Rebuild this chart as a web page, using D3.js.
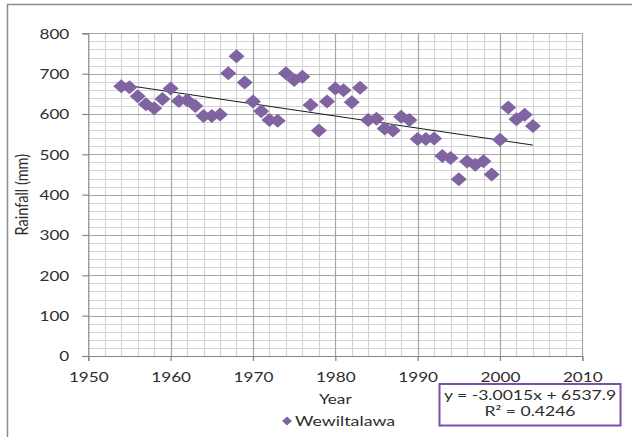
<!DOCTYPE html>
<html><head><meta charset="utf-8">
<script src="https://cdn.jsdelivr.net/npm/d3@7"></script>
<style>
html,body{margin:0;padding:0;background:#fff;}
svg{display:block;}
text{font-family:Lato,"Open Sans",sans-serif;fill:#2e2e2e;}
</style></head><body>
<svg id="c" width="632" height="437"></svg>
<script>
const years = [1954,1955,1956,1957,1958,1959,1960,1961,1962,1963,1964,1965,1966,1967,1968,1969,1970,1971,1972,1973,1974,1975,1976,1977,1978,1979,1980,1981,1982,1983,1984,1985,1986,1987,1988,1989,1990,1991,1992,1993,1994,1995,1996,1997,1998,1999,2000,2001,2002,2003,2004];
const rainfall = [669,666,644,624,614,637,663,632,634,620,595,595,599,701,743,678,631,607,585,583,701,684,692,622,559,631,663,659,629,665,585,588,564,559,593,585,538,538,539,496,491,438,482,474,483,450,536,616,587,598,570];
const xTicks = [1950,1960,1970,1980,1990,2000,2010];
const yTicks = [0,100,200,300,400,500,600,700,800];
const trendSlope = [-3.0015];
const trendIntercept = [6537.9];
const trendRange = [1954,2004];
const seriesName = ["Wewiltalawa"];
const equationLines = ["y = -3.0015x + 6537.9","R\u00b2 = 0.4246"];

const svg = d3.select("#c");
const SX = 1.32;
const FS = "13px";
const x = d3.scaleLinear().domain([1950,2010]).range([88.3,582.3]);
const y = d3.scaleLinear().domain([0,800]).range([356,33.3]);

// outer frame
svg.append("path").attr("d","M7.5,445 V4.5 H640").attr("fill","none").attr("stroke","#8c8c8c").attr("stroke-width",1.5);

const g = svg.append("g");
// minor grid
const minorX = d3.range(1950,2011,2).filter(v=>v%10!==0);
const minorY = d3.range(0,801,20).filter(v=>v%100!==0);
g.selectAll(".mgx").data(minorX).join("line")
  .attr("x1",d=>Math.round(x(d))+0.5).attr("x2",d=>Math.round(x(d))+0.5)
  .attr("y1",y(0)).attr("y2",y(800)).attr("stroke","#d4d4d4").attr("stroke-width",1.2);
g.selectAll(".mgy").data(minorY).join("line")
  .attr("y1",d=>Math.round(y(d))+0.5).attr("y2",d=>Math.round(y(d))+0.5)
  .attr("x1",x(1950)).attr("x2",x(2010)).attr("stroke","#d4d4d4").attr("stroke-width",1.2);
// major grid
g.selectAll(".Mgx").data(xTicks.slice(1)).join("line")
  .attr("x1",d=>Math.round(x(d))+0.5).attr("x2",d=>Math.round(x(d))+0.5)
  .attr("y1",y(0)).attr("y2",y(800)).attr("stroke","#a6a6a6").attr("stroke-width",1.2);
g.selectAll(".Mgy").data(yTicks.slice(1)).join("line")
  .attr("y1",d=>Math.round(y(d))+0.5).attr("y2",d=>Math.round(y(d))+0.5)
  .attr("x1",x(1950)).attr("x2",x(2010)).attr("stroke","#a6a6a6").attr("stroke-width",1.2);

// axes
const ax = svg.append("g").attr("transform",`translate(0,${y(0)})`)
  .call(d3.axisBottom(x).tickValues(xTicks).tickSize(5).tickFormat(d3.format("d")));
const ay = svg.append("g").attr("transform",`translate(${x(1950)},0)`)
  .call(d3.axisLeft(y).tickValues(yTicks).tickSize(6).tickFormat(d3.format("d")));
[ax,ay].forEach(a=>{
  a.select(".domain").attr("stroke","#868686").attr("stroke-width",1.2);
  a.selectAll(".tick line").attr("stroke","#868686").attr("stroke-width",1.2);
  a.selectAll("text").attr("font-size",FS).attr("font-family","Lato").attr("fill","#2e2e2e");
});
ax.selectAll(".tick text").attr("y",null).attr("dy",null)
  .attr("transform",`translate(0,25.5) scale(${SX},1)`);
ay.selectAll(".tick text").attr("x",null).attr("dy",null)
  .attr("transform",`translate(-19,4.7) scale(${SX},1)`);

// trend line
const tl = trendRange.map(v=>[v, trendSlope[0]*v + trendIntercept[0]]);
svg.append("path").datum(tl)
  .attr("d",d3.line().x(d=>x(d[0])).y(d=>y(d[1])))
  .attr("stroke","#1a1a1a").attr("stroke-width",1).attr("fill","none");

// markers
const diamond = (w,h)=>`M0,${-h}L${w},0L0,${h}L${-w},0Z`;
svg.append("g").selectAll("path").data(years.map((v,i)=>[v,rainfall[i]])).join("path")
  .attr("transform",d=>`translate(${x(d[0])},${y(d[1])})`)
  .attr("d",diamond(8,7)).attr("fill","#8064A2");

// axis titles
svg.append("text").attr("transform",`translate(${(x(1950)+x(2010))/2},404) scale(${SX},1)`)
  .attr("text-anchor","middle").attr("font-size",FS).text("Year");
svg.append("text").attr("transform",`translate(27.5,${(y(0)+y(800))/2}) rotate(-90) scale(1,1.25)`)
  .attr("text-anchor","middle").attr("font-size","14.5px").text("Rainfall (mm)");

// legend
svg.append("path").attr("transform","translate(287,421)").attr("d",diamond(5,4.5)).attr("fill","#8064A2");
svg.append("text").attr("transform",`translate(295,425.5) scale(${SX},1)`)
  .attr("font-size","13.5px").text(seriesName[0]);

// equation box
svg.append("rect").attr("x",439.5).attr("y",384).attr("width",181).attr("height",41.5)
  .attr("fill","#fff").attr("stroke","#7a4fae").attr("stroke-width",2);
svg.selectAll(".eq").data(equationLines).join("text")
  .attr("transform",(d,i)=>`translate(530,${400+i*15.5}) scale(${SX},1)`)
  .attr("text-anchor","middle").attr("font-size","13.3px").text(d=>d);
</script>
</body></html>
